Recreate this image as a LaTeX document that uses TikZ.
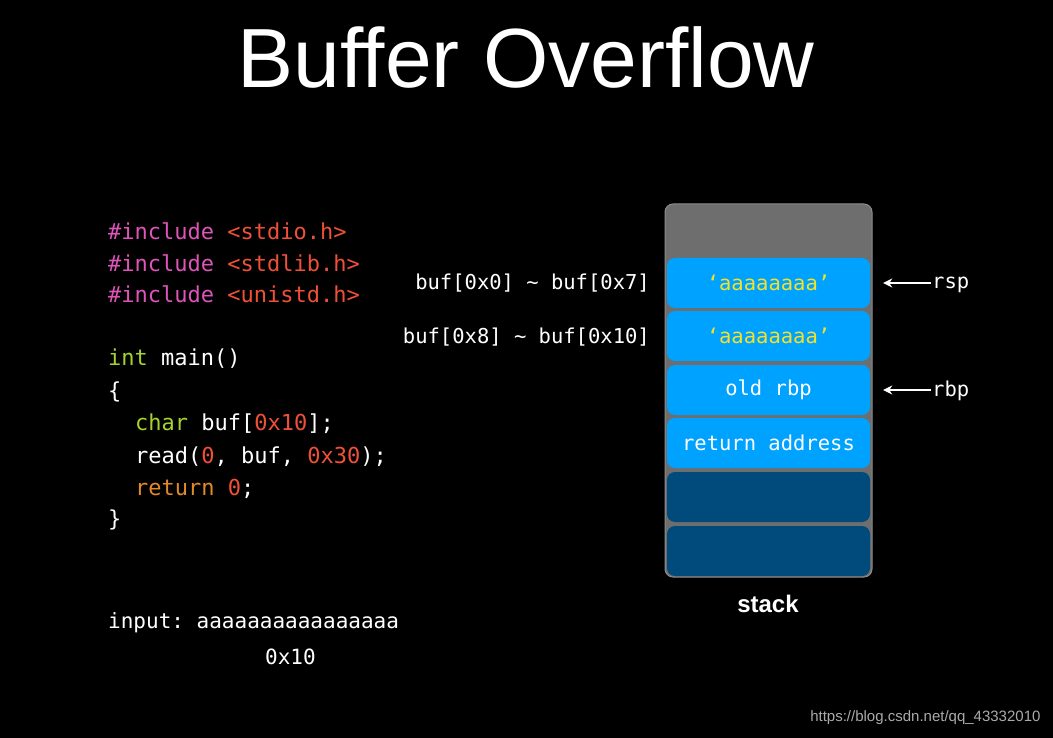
\documentclass[tikz,border=0pt]{standalone}
\usepackage{fontspec}
\setmainfont{Liberation Sans}
\setmonofont{DejaVu Sans Mono}
\usetikzlibrary{positioning,arrows.meta}
\definecolor{inclcol}{RGB}{222,84,184}
\definecolor{strcol}{RGB}{240,80,56}
\definecolor{typecol}{RGB}{166,210,46}
\definecolor{retcol}{RGB}{226,138,40}
\definecolor{cellhi}{RGB}{0,162,255}
\definecolor{celllo}{RGB}{0,74,124}
\definecolor{stackbg}{RGB}{110,110,110}
\definecolor{stackedge}{RGB}{140,140,140}
\definecolor{avalcol}{RGB}{245,225,40}
\definecolor{markcol}{RGB}{170,170,170}

\begin{document}
\begin{tikzpicture}
[x=1pt, y=-1pt,
codeline/.style={anchor=base west, inner sep=0pt, text=white, font=\fontsize{22}{22}\selectfont\ttfamily},
buflabel/.style={anchor=base east, inner sep=0pt, text=white, font=\fontsize{20.5}{20.5}\selectfont\ttfamily},
cell/.style={rectangle, rounded corners=8pt, minimum width=203pt, minimum height=50pt, inner sep=0pt, text=white, font=\fontsize{20.5}{20.5}\selectfont\ttfamily},
reglabel/.style={anchor=base west, inner sep=1pt, text=white, font=\fontsize{20.5}{20.5}\selectfont\ttfamily},
ptr/.style={draw=white, line width=2pt, -{Stealth[length=9pt,width=9pt]}},
]
\fill[black] (0,0) rectangle (1053,738);
\useasboundingbox (0,0) rectangle (1053,738);
%title
\node[anchor=base, inner sep=0pt, text=white, font=\fontsize{84}{84}\selectfont] (title) at (526,88) {Buffer Overflow};
%code
\node[codeline] (l1) at (108,240) {\textcolor{inclcol}{\#include} \textcolor{strcol}{<stdio.h>}};
\node[codeline] (l2) at (108,272) {\textcolor{inclcol}{\#include} \textcolor{strcol}{<stdlib.h>}};
\node[codeline] (l3) at (108,303) {\textcolor{inclcol}{\#include} \textcolor{strcol}{<unistd.h>}};
\node[codeline] (l4) at (108,366) {\textcolor{typecol}{int} main()};
\node[codeline] (l5) at (108,398) {\{};
\node[codeline] (l6) at (135,430) {\textcolor{typecol}{char} buf[\textcolor{strcol}{0x10}];};
\node[codeline] (l7) at (135,463) {read(\textcolor{strcol}{0}, buf, \textcolor{strcol}{0x30});};
\node[codeline] (l8) at (135,495) {\textcolor{retcol}{return} \textcolor{strcol}{0};};
\node[codeline] (l9) at (108,526) {\}};
%input
\node[codeline, font=\fontsize{21}{21}\selectfont\ttfamily] (input) at (108,628) {input: aaaaaaaaaaaaaaaa};
\node[codeline, font=\fontsize{21}{21}\selectfont\ttfamily] (size) at (265,664) {0x10};
%stack
\draw[fill=stackbg, draw=stackedge, line width=1pt, rounded corners=8pt] (665,204) rectangle (872,577);
\node[cell, fill=cellhi] (c1) at (768.5,283) {\textcolor{avalcol}{‘aaaaaaaa’}};
\node[cell, fill=cellhi] (c2) at (768.5,336) {\textcolor{avalcol}{‘aaaaaaaa’}};
\node[cell, fill=cellhi] (c3) at (768.5,390) {old rbp};
\node[cell, fill=cellhi] (c4) at (768.5,443) {return address};
\node[cell, fill=celllo] (c5) at (768.5,497) {};
\node[cell, fill=celllo] (c6) at (768.5,551) {};
\node[text=white, font=\fontsize{24}{24}\selectfont\bfseries] (stack) at (768,604) {stack};
%labels
\node[buflabel] (b1) at (650,290) {buf[0x0] \textasciitilde{} buf[0x7]};
\node[buflabel] (b2) at (650,343) {buf[0x8] \textasciitilde{} buf[0x10]};
\node[reglabel] (rsp) at (931,289) {rsp};
\node[reglabel] (rbp) at (931,396) {rbp};
%draw line
\draw[ptr] (rsp.west |- c1.east) -- ([xshift=13pt]c1.east);
\draw[ptr] (rbp.west |- c3.east) -- ([xshift=13pt]c3.east);
%mark
\node[anchor=east, text=markcol, font=\fontsize{15}{15}\selectfont] (mark) at (1044,718) {https://blog.csdn.net/qq\_43332010};
\end{tikzpicture}
\end{document}
